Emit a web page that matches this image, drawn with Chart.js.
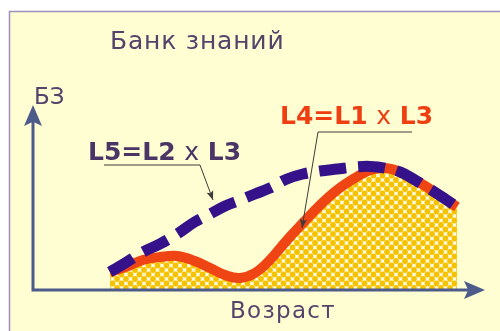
<!DOCTYPE html>
<html>
<head>
<meta charset="utf-8">
<script src="https://cdn.jsdelivr.net/npm/chart.js@4"></script>
<style>
  html, body { margin: 0; padding: 0; background: #fff; }
  canvas { display: block; }
</style>
</head>
<body>
<canvas id="mycanvas" width="500" height="331"></canvas>
<script>
// ages along the x axis, knowledge bank (БЗ) values on y
var ages = [17, 20.4, 24.3, 28.1, 31.9, 35.8, 39.2, 42.5, 45.8, 49.1, 52.4, 56.2,
            59.7, 63.5, 67.3, 71.2, 74.6, 77.9, 81.2, 84.5, 87.8, 91.2, 93.8];
var L4 = [9.7, 12.4, 16.2, 17.8, 18.4, 15.7, 11.9, 8.1, 6.5, 9.2, 16.2, 27.0,
          36.2, 45.9, 54.1, 60.5, 64.9, 65.9, 63.8, 59.5, 54.6, 49.2, 44.9];
var L5 = [9.7, 14.6, 20.5, 24.9, 30.3, 36.8, 41.1, 45.4, 48.6, 51.9, 55.1, 60.0,
          62.7, 64.3, 65.4, 66.5, 66.8, 65.9, 63.8, 59.5, 54.6, 49.2, 44.9];

var title = 'Банк знаний';
var yTitle = 'БЗ';
var xTitle = 'Возраст';
var labelL4 = ['L4=L1 ', 'x', ' L3'];
var labelL5 = ['L5=L2 ', 'x', ' L3'];

var canvas = document.getElementById('mycanvas');
var ctx = canvas.getContext('2d');

function dotPattern(c) {
  var t = document.createElement('canvas');
  t.width = 9; t.height = 9;
  var p = t.getContext('2d');
  p.fillStyle = '#fffbe4';
  p.fillRect(0, 0, 9, 9);
  p.fillStyle = '#f6c200';
  [[0, 0], [9, 0], [0, 9], [9, 9], [4.5, 4.5]].forEach(function(d) {
    p.beginPath();
    p.arc(d[0], d[1], 2.9, 0, Math.PI * 2);
    p.fill();
  });
  return c.createPattern(t, 'repeat');
}

function points(vals) {
  return ages.map(function(a, i) { return {x: a, y: vals[i]}; });
}

function arrowHead(c, x, y, ang, len, half) {
  c.save();
  c.translate(x, y);
  c.rotate(ang);
  c.beginPath();
  c.moveTo(0, 0);
  c.lineTo(-len, -half);
  c.lineTo(-len * 0.8, 0);
  c.lineTo(-len, half);
  c.closePath();
  c.fill();
  c.restore();
}

function drawParts(c, parts, x, y, color) {
  c.fillStyle = color;
  parts.forEach(function(t, i) {
    c.font = (i === 1 ? '' : 'bold ') + '25px "DejaVu Sans"';
    c.fillText(t, x, y);
    x += c.measureText(t).width;
  });
}

function leader(c, pts) {
  c.strokeStyle = '#3c3c3c';
  c.fillStyle = '#3c3c3c';
  c.lineWidth = 1;
  c.beginPath();
  c.moveTo(pts[0][0], pts[0][1]);
  for (var i = 1; i < pts.length; i++) c.lineTo(pts[i][0], pts[i][1]);
  c.stroke();
  var a = pts[pts.length - 2], b = pts[pts.length - 1];
  arrowHead(c, b[0], b[1], Math.atan2(b[1] - a[1], b[0] - a[0]), 9, 3.5);
}

var backdrop = {
  id: 'backdrop',
  beforeDraw: function(chart) {
    var c = chart.ctx;
    c.save();
    c.fillStyle = '#ffffff';
    c.fillRect(0, 0, chart.width, chart.height);
    c.fillStyle = '#fffdd2';
    c.fillRect(9, 11, chart.width - 9, chart.height - 11);
    c.strokeStyle = '#9d8fc0';
    c.lineWidth = 1.5;
    c.beginPath();
    c.moveTo(9.5, chart.height);
    c.lineTo(9.5, 11.5);
    c.lineTo(chart.width, 11.5);
    c.stroke();
    c.restore();
  }
};

var decorations = {
  id: 'decorations',
  afterDatasetsDraw: function(chart) {
    var c = chart.ctx;
    var area = chart.chartArea;
    c.save();
    // axes
    c.strokeStyle = '#4d5b8b';
    c.fillStyle = '#4d5b8b';
    c.lineWidth = 3;
    c.beginPath();
    c.moveTo(area.left, area.top + 15);
    c.lineTo(area.left, area.bottom);
    c.lineTo(area.right - 15, area.bottom);
    c.stroke();
    arrowHead(c, area.left, area.top, -Math.PI / 2, 21, 9);
    arrowHead(c, area.right, area.bottom, 0, 21, 9);

    // titles
    c.fillStyle = '#55436c';
    c.textBaseline = 'alphabetic';
    c.font = '25px "DejaVu Sans"';
    c.letterSpacing = '0.8px';
    c.fillText(title, 110, 49);
    c.font = '23px "DejaVu Sans"';
    c.letterSpacing = '0px';
    c.fillText(yTitle, 34, 104);
    c.font = '23px "DejaVu Sans"';
    c.letterSpacing = '1.3px';
    c.fillText(xTitle, 230, 318);
    c.letterSpacing = '0px';

    // curve labels with leader lines
    drawParts(c, labelL5, 88, 160, '#4b3466');
    drawParts(c, labelL4, 280, 124, '#ee3e12');
    leader(c, [[104, 165], [200, 165], [213, 200]]);
    leader(c, [[412, 132], [318, 132], [302, 228]]);
    c.restore();
  }
};

new Chart(ctx, {
  type: 'line',
  data: {
    datasets: [
      {
        label: 'L5=L2 x L3',
        data: points(L5),
        borderColor: '#35128a',
        borderWidth: 11,
        borderDash: [27, 12],
        borderCapStyle: 'butt',
        fill: false,
        tension: 0.4,
        pointRadius: 0,
        clip: false
      },
      {
        label: 'L4=L1 x L3',
        data: points(L4),
        borderColor: '#ef4413',
        borderWidth: 10,
        borderCapStyle: 'butt',
        backgroundColor: dotPattern(ctx),
        fill: 'origin',
        tension: 0.4,
        pointRadius: 0,
        clip: false
      }
    ]
  },
  options: {
    responsive: false,
    animation: false,
    devicePixelRatio: 1,
    layout: { padding: { left: 33, right: 15, top: 105, bottom: 41 } },
    scales: {
      x: { type: 'linear', min: 0, max: 100, display: false },
      y: { min: 0, max: 100, display: false }
    },
    plugins: {
      legend: { display: false },
      tooltip: { enabled: false }
    }
  },
  plugins: [backdrop, decorations]
});
</script>
</body>
</html>
